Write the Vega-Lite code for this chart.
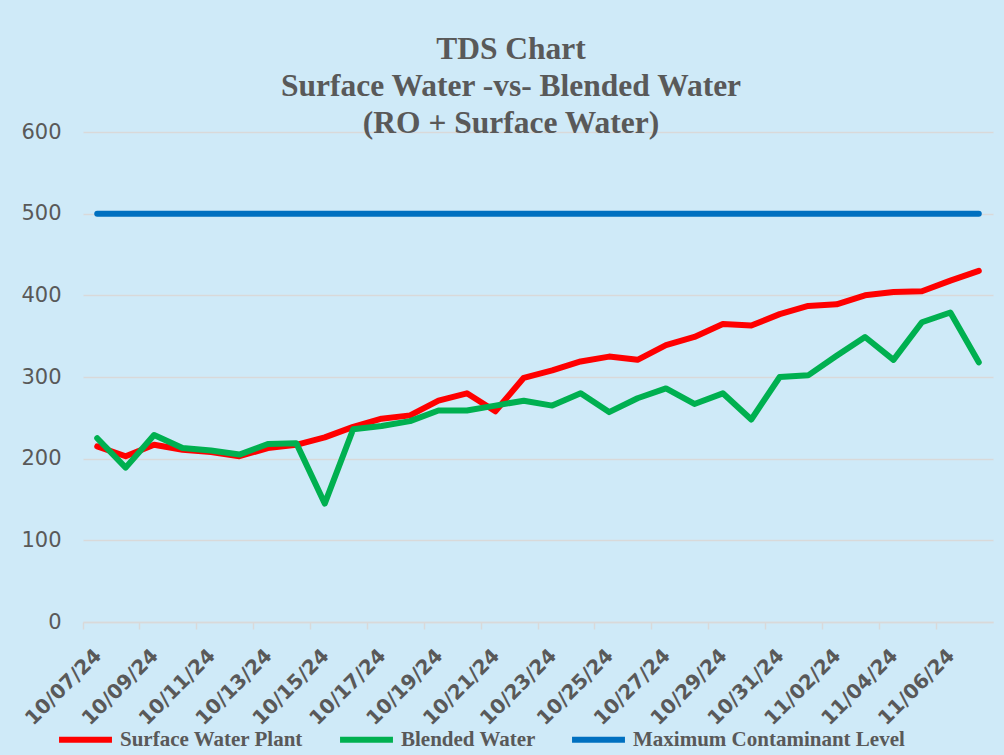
{
  "$schema": "https://vega.github.io/schema/vega-lite/v6.json",
  "autosize": {"type": "none"},
  "padding": {"left": 83, "top": 132, "right": 11, "bottom": 133},
  "width": 910,
  "height": 490,
  "background": "#cfeaf8",
  "title": {
    "text": ["TDS Chart", "Surface Water -vs- Blended Water", "(RO + Surface Water)"],
    "font": "Liberation Serif",
    "fontSize": 31.5,
    "fontWeight": "bold",
    "color": "#595959",
    "lineHeight": 37,
    "anchor": "middle",
    "frame": "group",
    "dx": -27,
    "offset": -18
  },
  "data": {
    "values": [
      {"date": "10/07/24", "Surface Water Plant": 215, "Blended Water": 225, "Maximum Contaminant Level": 500},
      {"date": "10/08/24", "Surface Water Plant": 203, "Blended Water": 189, "Maximum Contaminant Level": 500},
      {"date": "10/09/24", "Surface Water Plant": 217, "Blended Water": 229, "Maximum Contaminant Level": 500},
      {"date": "10/10/24", "Surface Water Plant": 211, "Blended Water": 213, "Maximum Contaminant Level": 500},
      {"date": "10/11/24", "Surface Water Plant": 208, "Blended Water": 210, "Maximum Contaminant Level": 500},
      {"date": "10/12/24", "Surface Water Plant": 203, "Blended Water": 205, "Maximum Contaminant Level": 500},
      {"date": "10/13/24", "Surface Water Plant": 213, "Blended Water": 218, "Maximum Contaminant Level": 500},
      {"date": "10/14/24", "Surface Water Plant": 217, "Blended Water": 219, "Maximum Contaminant Level": 500},
      {"date": "10/15/24", "Surface Water Plant": 226, "Blended Water": 145, "Maximum Contaminant Level": 500},
      {"date": "10/16/24", "Surface Water Plant": 239, "Blended Water": 236, "Maximum Contaminant Level": 500},
      {"date": "10/17/24", "Surface Water Plant": 249, "Blended Water": 240, "Maximum Contaminant Level": 500},
      {"date": "10/18/24", "Surface Water Plant": 253, "Blended Water": 246, "Maximum Contaminant Level": 500},
      {"date": "10/19/24", "Surface Water Plant": 271, "Blended Water": 259, "Maximum Contaminant Level": 500},
      {"date": "10/20/24", "Surface Water Plant": 280, "Blended Water": 259, "Maximum Contaminant Level": 500},
      {"date": "10/21/24", "Surface Water Plant": 258, "Blended Water": 265, "Maximum Contaminant Level": 500},
      {"date": "10/22/24", "Surface Water Plant": 299, "Blended Water": 271, "Maximum Contaminant Level": 500},
      {"date": "10/23/24", "Surface Water Plant": 308, "Blended Water": 265, "Maximum Contaminant Level": 500},
      {"date": "10/24/24", "Surface Water Plant": 319, "Blended Water": 280, "Maximum Contaminant Level": 500},
      {"date": "10/25/24", "Surface Water Plant": 325, "Blended Water": 257, "Maximum Contaminant Level": 500},
      {"date": "10/26/24", "Surface Water Plant": 321, "Blended Water": 274, "Maximum Contaminant Level": 500},
      {"date": "10/27/24", "Surface Water Plant": 339, "Blended Water": 286, "Maximum Contaminant Level": 500},
      {"date": "10/28/24", "Surface Water Plant": 349, "Blended Water": 267, "Maximum Contaminant Level": 500},
      {"date": "10/29/24", "Surface Water Plant": 365, "Blended Water": 280, "Maximum Contaminant Level": 500},
      {"date": "10/30/24", "Surface Water Plant": 363, "Blended Water": 248, "Maximum Contaminant Level": 500},
      {"date": "10/31/24", "Surface Water Plant": 377, "Blended Water": 300, "Maximum Contaminant Level": 500},
      {"date": "11/01/24", "Surface Water Plant": 387, "Blended Water": 302, "Maximum Contaminant Level": 500},
      {"date": "11/02/24", "Surface Water Plant": 389, "Blended Water": 326, "Maximum Contaminant Level": 500},
      {"date": "11/03/24", "Surface Water Plant": 400, "Blended Water": 349, "Maximum Contaminant Level": 500},
      {"date": "11/04/24", "Surface Water Plant": 404, "Blended Water": 321, "Maximum Contaminant Level": 500},
      {"date": "11/05/24", "Surface Water Plant": 405, "Blended Water": 367, "Maximum Contaminant Level": 500},
      {"date": "11/06/24", "Surface Water Plant": 418, "Blended Water": 379, "Maximum Contaminant Level": 500},
      {"date": "11/07/24", "Surface Water Plant": 430, "Blended Water": 318, "Maximum Contaminant Level": 500}
    ]
  },
  "transform": [
    {"fold": ["Surface Water Plant", "Blended Water", "Maximum Contaminant Level"], "as": ["series", "value"]}
  ],
  "mark": {"type": "line", "strokeWidth": 6, "strokeCap": "round", "strokeJoin": "round"},
  "encoding": {
    "x": {
      "field": "date",
      "type": "ordinal",
      "sort": null,
      "scale": {"type": "band", "paddingInner": 0, "paddingOuter": 0},
      "axis": {
        "title": null,
        "values": ["10/07/24", "10/09/24", "10/11/24", "10/13/24", "10/15/24", "10/17/24", "10/19/24", "10/21/24", "10/23/24", "10/25/24", "10/27/24", "10/29/24", "10/31/24", "11/02/24", "11/04/24", "11/06/24"],
        "bandPosition": 0,
        "labelOffset": -6,
        "labelAngle": -45,
        "labelFont": "DejaVu Sans",
        "labelFontWeight": "bold",
        "labelFontSize": 20,
        "labelColor": "#595959",
        "labelPadding": 16,
        "domainColor": "#d9d9d9",
        "domainWidth": 1.5,
        "tickColor": "#d9d9d9",
        "tickWidth": 1.5,
        "tickSize": 7,
        "grid": false
      }
    },
    "y": {
      "field": "value",
      "type": "quantitative",
      "scale": {"domain": [0, 600]},
      "axis": {
        "title": null,
        "values": [0, 100, 200, 300, 400, 500, 600],
        "labelFont": "DejaVu Sans",
        "labelFontSize": 21,
        "labelColor": "#595959",
        "labelPadding": 22,
        "ticks": false,
        "domain": false,
        "gridColor": "#d9d9d9",
        "gridWidth": 1.5
      }
    },
    "color": {
      "field": "series",
      "type": "nominal",
      "scale": {
        "domain": ["Surface Water Plant", "Blended Water", "Maximum Contaminant Level"],
        "range": ["#ff0000", "#00b050", "#0070c0"]
      },
      "legend": {
        "title": null,
        "orient": "none",
        "direction": "horizontal",
        "legendX": -27,
        "legendY": 578,
        "symbolType": "stroke",
        "symbolSize": 2800,
        "symbolStrokeWidth": 6,
        "labelFont": "Liberation Serif",
        "labelFontWeight": "bold",
        "labelFontSize": 21,
        "labelColor": "#595959",
        "labelOffset": 5,
        "columnPadding": 24,
        "labelLimit": 400
      }
    }
  },
  "config": {
    "view": {"stroke": null}
  }
}
